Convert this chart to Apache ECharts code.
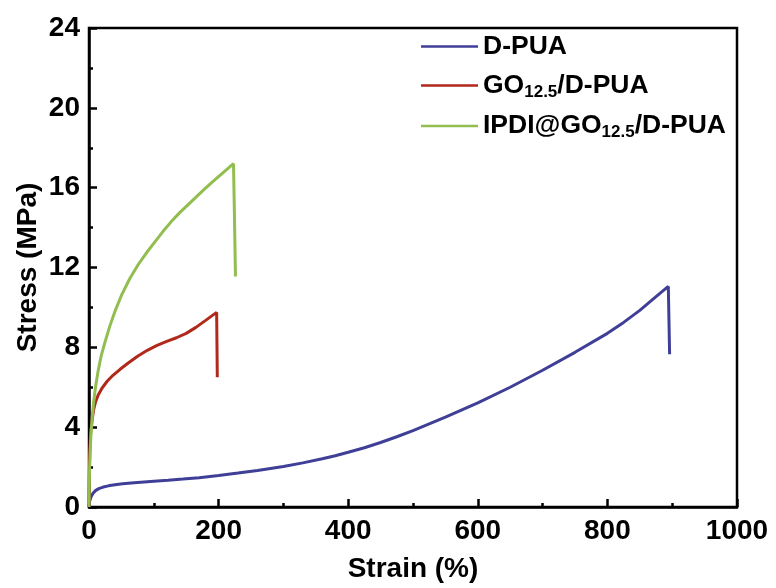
<!DOCTYPE html>
<html>
<head>
<meta charset="utf-8">
<script src="https://cdn.jsdelivr.net/npm/echarts@6/dist/echarts.min.js"></script>
<style>
  html, body { margin: 0; padding: 0; background: #fff; }
  #chart { width: 776px; height: 588px; }
</style>
</head>
<body>
<div id="chart"></div>
<script>
// Tensile stress–strain curves: [strain %, stress MPa]
const seriesNames = ['D-PUA', 'GO12.5/D-PUA', 'IPDI@GO12.5/D-PUA'];

const dPua = [
  [0, 0], [1, 0.3], [3, 0.5], [6, 0.68], [10, 0.82], [15, 0.92], [22, 1.0],
  [30, 1.06], [40, 1.11], [52, 1.16], [65, 1.2], [80, 1.24], [100, 1.29],
  [122, 1.34], [145, 1.4], [170, 1.47], [200, 1.58], [230, 1.7], [260, 1.83],
  [300, 2.03], [330, 2.21], [360, 2.42], [380, 2.57], [400, 2.74], [425, 2.97],
  [450, 3.23], [475, 3.52], [500, 3.83], [550, 4.5], [600, 5.22], [650, 6.0],
  [700, 6.85], [750, 7.75], [800, 8.7], [825, 9.25], [850, 9.85], [870, 10.4],
  [894, 11.05], [896, 7.65]
];

const goDPua = [
  [0, 0], [0.5, 1.5], [1, 2.6], [2, 3.4], [3, 3.9], [5, 4.4], [7, 4.85],
  [10, 5.25], [14, 5.6], [20, 5.95], [28, 6.3], [37, 6.6], [48, 6.9],
  [60, 7.2], [75, 7.55], [90, 7.85], [105, 8.1], [120, 8.3], [135, 8.48],
  [150, 8.7], [165, 9.0], [180, 9.35], [197, 9.75], [198, 6.5]
];

const ipdiGoDPua = [
  [0, 0], [0.5, 1.2], [1, 2.0], [2, 2.9], [3, 3.6], [5, 4.5], [7, 5.2],
  [10, 6.0], [14, 6.8], [19, 7.6], [25, 8.3], [32, 9.05], [40, 9.8],
  [50, 10.6], [63, 11.45], [76, 12.15], [89, 12.75], [102, 13.3], [114, 13.8],
  [127, 14.3], [140, 14.75], [153, 15.15], [166, 15.55], [179, 15.95],
  [191, 16.3], [207, 16.75], [223, 17.2], [224.5, 14.5], [226, 11.55]
];

const colors = ['#3f3f98', '#b0291b', '#92bd4f'];

const FONT = '"Liberation Sans", Arial, sans-serif';

// Legend labels with subscripted "12.5"
const legendLabels = {
  'D-PUA': '{n|D-PUA}',
  'GO12.5/D-PUA': '{n|GO}{s|12.5}{n|/D-PUA}',
  'IPDI@GO12.5/D-PUA': '{n|IPDI@GO}{s|12.5}{n|/D-PUA}'
};

const chart = echarts.init(document.getElementById('chart'), null, { renderer: 'canvas' });

const lineSeries = (name, data, color) => ({
  name: name,
  type: 'line',
  data: data,
  symbol: 'none',
  smooth: false,
  lineStyle: { color: color, width: 3 },
  itemStyle: { color: color },
  animation: false
});

const axisCommon = {
  type: 'value',
  nameLocation: 'middle',
  nameMoveOverlap: false,
  nameTextStyle: { fontFamily: FONT, fontWeight: 'bold', fontSize: 28, color: '#000' },
  axisLine: { show: true, lineStyle: { color: '#000', width: 2.5 } },
  axisTick: { show: true, inside: true, length: 8, lineStyle: { color: '#000', width: 2.5 } },
  minorTick: { show: true, splitNumber: 2, length: 4, lineStyle: { color: '#000', width: 2.5 } },
  splitLine: { show: false }
};

chart.setOption({
  backgroundColor: '#fff',
  animation: false,
  grid: {
    left: 89, right: 39, top: 28, bottom: 80,
    show: true, borderColor: '#000', borderWidth: 2.5, backgroundColor: 'transparent'
  },
  legend: {
    left: 416, top: 28, orient: 'vertical',
    icon: 'rect', itemWidth: 57, itemHeight: 2.5, itemGap: 12,
    data: seriesNames,
    formatter: name => legendLabels[name],
    textStyle: {
      fontFamily: FONT, fontWeight: 'bold', color: '#000',
      rich: {
        n: { fontFamily: FONT, fontWeight: 'bold', fontSize: 26.5, color: '#000', lineHeight: 30, verticalAlign: 'middle' },
        s: { fontFamily: FONT, fontWeight: 'bold', fontSize: 17, color: '#000', lineHeight: 17, verticalAlign: 'bottom' }
      }
    }
  },
  xAxis: Object.assign({}, axisCommon, {
    min: 0, max: 1000, interval: 200,
    name: 'Strain (%)', nameGap: 48,
    axisLabel: { fontFamily: FONT, fontWeight: 'bold', fontSize: 28, color: '#000', margin: 10, formatter: v => String(v) }
  }),
  yAxis: Object.assign({}, axisCommon, {
    min: 0, max: 24, interval: 4,
    name: 'Stress (MPa)', nameGap: 47,
    axisLabel: { fontFamily: FONT, fontWeight: 'bold', fontSize: 28, color: '#000', margin: 9, formatter: v => String(v) }
  }),
  series: [
    lineSeries(seriesNames[0], dPua, colors[0]),
    lineSeries(seriesNames[1], goDPua, colors[1]),
    lineSeries(seriesNames[2], ipdiGoDPua, colors[2])
  ]
});
</script>
</body>
</html>
